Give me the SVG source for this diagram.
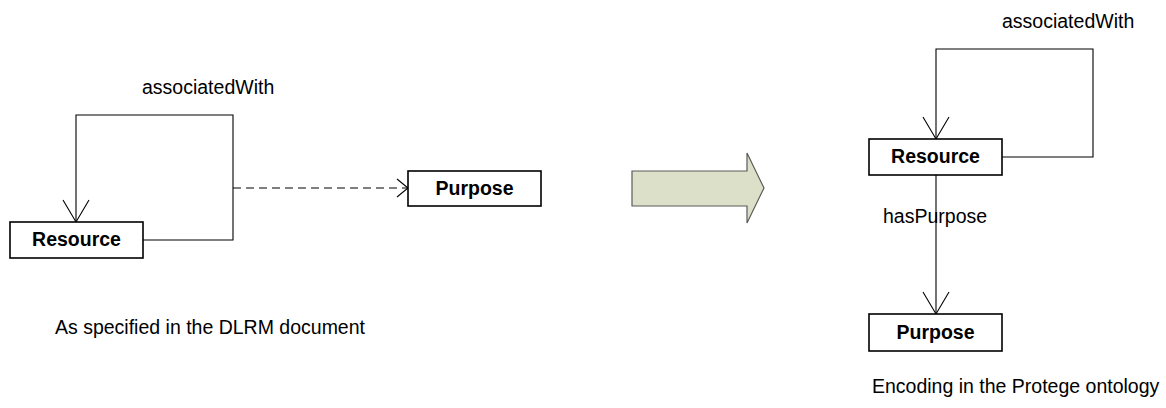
<svg xmlns="http://www.w3.org/2000/svg" width="1166" height="408" viewBox="0 0 1166 408">
<defs>
<style>
.box{fill:#fff;stroke:#000;stroke-width:1.6}
.lbl{font-family:"Liberation Sans",Arial,sans-serif;font-size:19.5px;font-weight:bold;fill:#000;text-anchor:middle}
.txt{font-family:"Liberation Sans",Arial,sans-serif;font-size:19.5px;fill:#000}
.ln{fill:none;stroke:#000;stroke-width:1.1}
.dash{fill:none;stroke:#000;stroke-width:1.1;stroke-dasharray:8 5}
.head{fill:none;stroke:#000;stroke-width:1.1}
</style>
</defs>
<rect width="1166" height="408" fill="#fff"/>
<g id="connectors">
<polyline class="ln" points="143,240 233,240 233,115 76,115 76,222"/>
<polyline class="head" points="63,200 76,222 89,200"/>
<line class="dash" x1="233" y1="188" x2="408" y2="188"/>
<polyline class="head" points="397,179 408,188 397,197"/>
<polyline class="ln" points="1002,157 1093,157 1093,49 936,49 936,139"/>
<polyline class="head" points="923,117 936,139 949,117"/>
<line class="ln" x1="936" y1="175" x2="936" y2="314"/>
<polyline class="head" points="923,292 936,314 949,292"/>
</g>
<g id="left-resource">
<rect class="box" x="10" y="222" width="133" height="36"/>
<text class="lbl" x="76.5" y="246">Resource</text>
</g>
<g id="left-purpose">
<rect class="box" x="408" y="171" width="133" height="35"/>
<text class="lbl" x="474.5" y="195">Purpose</text>
</g>
<g id="right-resource">
<rect class="box" x="869" y="139" width="133" height="36"/>
<text class="lbl" x="935.5" y="163">Resource</text>
</g>
<g id="right-purpose">
<rect class="box" x="869" y="314" width="133" height="37"/>
<text class="lbl" x="935.5" y="339">Purpose</text>
</g>
<g id="big-arrow">
<polygon points="632,171 747,171 747,153 764,188 747,223 747,206 632,206" fill="#dde0c8" stroke="#5a5a5a" stroke-width="1.2"/>
</g>
<g id="labels">
<text class="txt" x="142" y="94">associatedWith</text>
<text class="txt" x="1002" y="28">associatedWith</text>
<text class="txt" x="883" y="223">hasPurpose</text>
<text class="txt" x="55" y="334">As specified in the DLRM document</text>
<text class="txt" x="872" y="393">Encoding in the Protege ontology</text>
</g>
</svg>
